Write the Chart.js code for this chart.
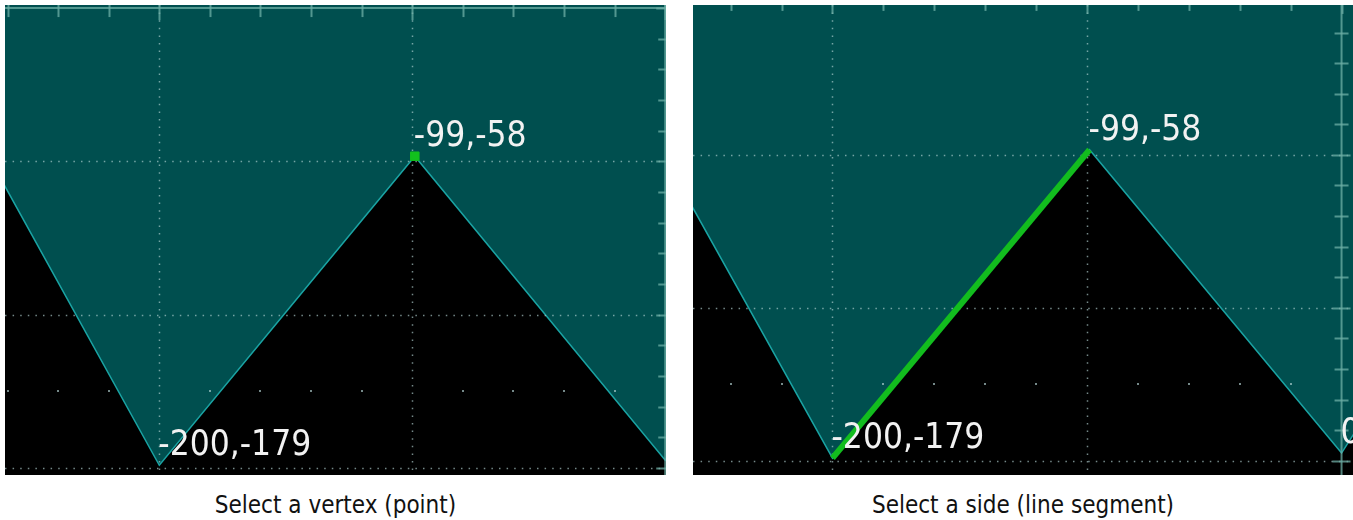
<!DOCTYPE html>
<html>
<head>
<meta charset="utf-8">
<script src="https://cdn.jsdelivr.net/npm/chart.js@4.4.1/dist/chart.umd.min.js"></script>
<style>
body { margin: 0; background: #fff; width: 1353px; height: 520px; overflow: hidden; position: relative }
.panel { position: absolute; top: 5px; height: 470px }
.panel canvas { background: #004f4f }
.caption { position: absolute; top: 493px; font-family: "DejaVu Sans Condensed", "DejaVu Sans", sans-serif; font-size: 24px; line-height: 24px; text-align: center; color: #111 }
</style>
</head>
<body>
<div class="panel" style="left:5px;width:661px"><canvas id="chart_vertex"></canvas></div>
<div class="panel" style="left:693px;width:660px"><canvas id="chart_side"></canvas></div>
<div class="caption" style="left:5px;width:661px">Select a vertex (point)</div>
<div class="caption" style="left:693px;width:660px">Select a side (line segment)</div>
<script>
// polygon vertices (x, y)
const vertex_x = [-300, -200, -99, 0, 100]
const vertex_y = [0, -179, -58, -177, -20]

// what is selected in each picture
const selected_vertex = [2]
const selected_side = [1, 2]

// visible window of each picture
const vertex_x_range = [-261, 0.3]
const vertex_y_range = [-182.8, 1.2]
const side_x_range = [-254.8, 4.5]
const side_y_range = [-185.6, -1.2]

function points(indices) {
    return indices.map((i) => ({x: vertex_x[i], y: vertex_y[i]}))
}

const scopeGrid = {
    id: 'scopeGrid',
    afterDatasetDraw(chart, args) {
        if (chart.data.datasets[args.index].label != 'polygon') return
        let ctx = chart.ctx
        let a = chart.chartArea
        let xs = chart.scales.x
        let ys = chart.scales.y
        ctx.save()
        ctx.beginPath()
        ctx.rect(a.left, a.top, a.right - a.left, a.bottom - a.top)
        ctx.clip()

        // dotted major grid
        ctx.strokeStyle = 'rgba(180,210,210,0.65)'
        ctx.lineWidth = 1.5
        ctx.setLineDash([1.5, 6.1])
        for (let v = Math.ceil(xs.min / 100) * 100; v <= xs.max; v += 100) {
            if (v == 0) continue
            let p = Math.round(xs.getPixelForValue(v)) + 0.5
            ctx.beginPath(); ctx.moveTo(p, a.top); ctx.lineTo(p, a.bottom); ctx.stroke()
        }
        for (let v = Math.ceil(ys.min / 60) * 60; v <= ys.max; v += 60) {
            if (v == 0) continue
            let p = Math.round(ys.getPixelForValue(v)) + 0.5
            ctx.beginPath(); ctx.moveTo(a.left, p); ctx.lineTo(a.right, p); ctx.stroke()
        }
        ctx.setLineDash([])

        // row of minor dots
        ctx.fillStyle = 'rgba(180,210,210,0.65)'
        let row = Math.round(ys.getPixelForValue(-150))
        for (let v = Math.ceil(xs.min / 20) * 20; v <= xs.max; v += 20) {
            if (v % 100 == 0) continue
            ctx.fillRect(Math.round(xs.getPixelForValue(v)) - 1, row - 1, 2, 2)
        }

        // x axis (y = 0) and y axis (x = 0) with ticks
        ctx.strokeStyle = 'rgba(110,175,165,0.75)'
        ctx.lineWidth = 2
        let y0 = ys.getPixelForValue(0)
        let x0 = xs.getPixelForValue(0)
        ctx.beginPath(); ctx.moveTo(a.left, y0); ctx.lineTo(a.right, y0); ctx.stroke()
        ctx.beginPath(); ctx.moveTo(x0, a.top); ctx.lineTo(x0, a.bottom); ctx.stroke()
        for (let v = Math.ceil(xs.min / 20) * 20; v <= xs.max; v += 20) {
            let p = Math.round(xs.getPixelForValue(v)) + 0.5
            let h = v % 100 == 0 ? 12 : 9
            ctx.beginPath(); ctx.moveTo(p, y0 - h); ctx.lineTo(p, y0 + h); ctx.stroke()
        }
        for (let v = Math.ceil(ys.min / 12) * 12; v <= ys.max; v += 12) {
            let p = Math.round(ys.getPixelForValue(v)) + 0.5
            let h = v % 60 == 0 ? 9 : 7
            ctx.beginPath(); ctx.moveTo(x0 - h, p); ctx.lineTo(x0 + h, p); ctx.stroke()
        }
        ctx.restore()
    },
    afterDatasetsDraw(chart) {
        let idx = chart.data.datasets.findIndex((d) => d.label == 'polygon')
        let meta = chart.getDatasetMeta(idx)
        let ctx = chart.ctx
        let a = chart.chartArea
        ctx.save()
        ctx.beginPath()
        ctx.rect(a.left, a.top, a.right - a.left, a.bottom - a.top)
        ctx.clip()
        ctx.font = '35px "DejaVu Sans Condensed", "DejaVu Sans", sans-serif'
        ctx.fillStyle = '#f2f2f2'
        ctx.textAlign = 'left'
        ctx.textBaseline = 'alphabetic'
        meta.data.forEach((pt, i) => {
            ctx.fillText(vertex_x[i] + "," + vertex_y[i], pt.x - 1, pt.y - 10)
        })
        ctx.restore()
    }
}

function createScopeChart(id, highlight, x_range, y_range) {
    let polygon = {
        label: 'polygon',
        data: points(vertex_x.map((v, i) => i)),
        borderColor: '#1aa3a3',
        borderWidth: 1.5,
        backgroundColor: '#000000',
        fill: 'start',
        pointRadius: 0,
        tension: 0,
        order: 2
    }
    return new Chart(document.getElementById(id).getContext('2d'), {
        type: 'line',
        data: { datasets: [highlight, polygon] },
        options: {
            responsive: true,
            maintainAspectRatio: false,
            animation: false,
            events: [],
            layout: { padding: 0, autoPadding: false },
            plugins: { legend: { display: false }, tooltip: { enabled: false } },
            scales: {
                x: { type: 'linear', display: false, min: x_range[0], max: x_range[1] },
                y: { type: 'linear', display: false, min: y_range[0], max: y_range[1] }
            }
        },
        plugins: [scopeGrid]
    })
}

createScopeChart('chart_vertex', {
    label: 'selected vertex',
    data: points(selected_vertex),
    showLine: false,
    pointStyle: 'rect',
    pointRadius: 6,
    pointBackgroundColor: '#12c01e',
    pointBorderColor: '#12c01e',
    pointBorderWidth: 1,
    order: 1
}, vertex_x_range, vertex_y_range)

createScopeChart('chart_side', {
    label: 'selected side',
    data: points(selected_side),
    borderColor: '#12bd1e',
    borderWidth: 6,
    pointRadius: 0,
    fill: false,
    order: 1
}, side_x_range, side_y_range)
</script>
</body>
</html>
